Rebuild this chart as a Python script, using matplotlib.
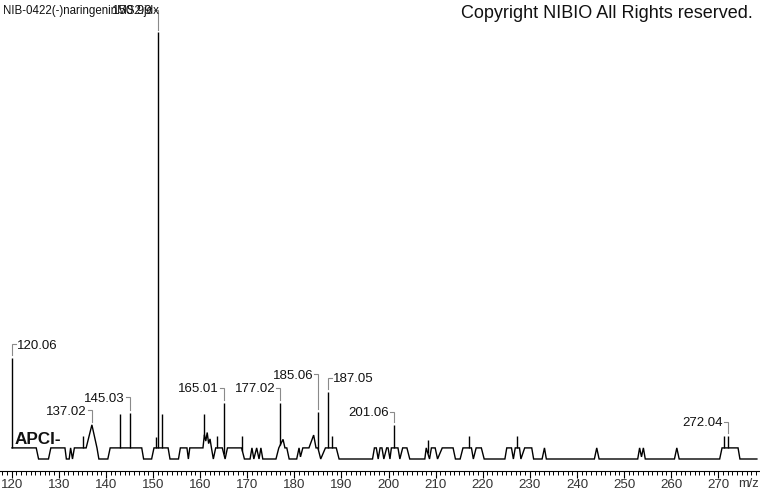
import numpy as np
import matplotlib
matplotlib.use("Agg")
import matplotlib.pyplot as plt
from matplotlib.ticker import MultipleLocator
from matplotlib import font_manager

# ---------------- data ----------------
# continuous profile (m/z, relative intensity %)
profile_mz = [120.06, 125.2, 125.7, 127.8, 128.3, 131.3, 131.6, 132.2, 132.5, 132.9, 133.3,
              135.8, 137.02, 138.1, 138.5, 140.4, 140.9, 147.6, 148.0, 149.7, 150.2,
              153.2, 153.6, 155.4, 155.8, 157.2, 157.5, 157.8, 160.6, 160.9, 161.2,
              161.5, 161.8, 162.1, 162.4, 162.8, 163.3, 164.7, 165.3, 165.8, 168.8,
              169.4, 170.6, 171.0, 171.4, 172.0, 172.5, 172.9, 173.3, 176.1, 176.7,
              177.6, 178.0, 178.4, 178.9, 180.5, 181.0, 181.3, 181.8, 183.1, 184.1,
              184.6, 185.0, 185.6, 186.6, 188.9, 189.5, 196.6, 197.0, 197.4, 197.8,
              198.2, 198.6, 199.0, 199.6, 199.9, 200.3, 200.6, 202.0, 202.4, 203.0,
              203.9, 204.5, 207.7, 208.0, 208.7, 209.1, 209.9, 210.4, 211.4, 213.7,
              214.2, 215.2, 215.8, 217.6, 218.0, 218.6, 219.7, 220.3, 224.7, 225.1,
              226.1, 226.5, 226.9, 227.8, 228.1, 228.9, 230.4, 230.8, 232.6, 233.1,
              233.5, 243.7, 244.2, 244.7, 252.9, 253.3, 253.7, 254.1, 254.5, 260.7,
              261.2, 261.7, 270.3, 270.8, 274.2, 274.6, 278.2]
profile_int = [2.6, 2.6, 0, 0, 2.6, 2.6, 0, 0, 2.6, 0, 2.6,
               2.6, 8.0, 2.6, 0, 0, 2.6, 2.6, 0, 0, 2.6,
               2.6, 0, 0, 2.6, 2.6, 0, 2.6, 2.6, 5.7, 4.2,
               6.2, 3.6, 4.7, 2.6, 0, 2.6, 2.6, 0, 2.6, 2.6,
               0, 0, 2.6, 0, 2.6, 0, 2.6, 0, 0, 2.6,
               4.6, 2.6, 2.6, 0, 0, 2.6, 0.5, 2.6, 2.6, 5.6,
               2.6, 2.6, 0, 2.6, 2.6, 0, 0, 2.6, 2.6, 0,
               2.6, 2.6, 0, 2.6, 2.6, 0, 2.6, 2.6, 0, 2.6,
               2.6, 0, 0, 2.6, 0, 2.6, 2.6, 0, 2.6, 2.6,
               0, 0, 2.6, 2.6, 0, 2.6, 2.6, 0, 0, 2.6,
               2.6, 0, 2.6, 2.6, 0, 2.6, 2.6, 0, 0, 2.6,
               0, 0, 2.6, 0, 0, 2.6, 0.5, 2.6, 0, 0,
               2.6, 0, 0, 2.6, 2.6, 0, 0]

# centroid peaks
peak_mz = [120.06, 135.07, 137.02, 142.99, 145.03, 150.70, 150.99, 151.97, 160.88,
           163.64, 165.01, 168.95, 177.02, 185.06, 187.05, 188.00, 201.06, 208.31,
           217.14, 227.21, 271.20, 272.04]
peak_int = [23.7, 5.4, 8.0, 10.5, 10.8, 5.2, 100.0, 10.5, 10.5,
            5.4, 13.2, 5.4, 13.2, 11.1, 15.7, 5.4, 8.0, 4.4,
            5.4, 5.5, 5.4, 5.4]

# annotated peaks: m/z, label height (%), side of label
label_mz = [120.06, 137.02, 145.03, 150.99, 165.01, 177.02, 185.06, 187.05, 201.06, 272.04]
label_y = [26.5, 11.1, 14.1, 104.9, 16.3, 16.3, 19.5, 18.7, 10.7, 8.4]
label_side = ["right", "left", "left", "left", "left", "left", "left", "right", "left", "left"]

x_major = list(range(120, 280, 10))
title_text = "NIB-0422(-)naringeninMS2.jdx"
copyright_text = "Copyright NIBIO All Rights reserved."
mode_text = "APCI-"

# ---------------- fonts ----------------
avail = {f.name for f in font_manager.fontManager.ttflist}
narrow = "Liberation Sans Narrow" if "Liberation Sans Narrow" in avail else "Liberation Sans"
base = "Liberation Sans"

# ---------------- figure ----------------
W, H = 760, 492
fig = plt.figure(figsize=(W / 100, H / 100), dpi=100)
ax_bottom_px = 471
ax = fig.add_axes([0, (H - ax_bottom_px) / H, 1, ax_bottom_px / H])
xmin, xmax = 117.51, 278.86
ax.set_xlim(xmin, xmax)
px_per_unit = 4.27
ax.set_ylim(-(ax_bottom_px - 459) / px_per_unit, 459 / px_per_unit)
xpx = (xmax - xmin) / W  # m/z per pixel
ypx = 1 / px_per_unit      # % per pixel

lw = 1.0
ax.plot(profile_mz, profile_int, color="black", lw=lw, solid_joinstyle="miter")
base_at_peak = np.interp(peak_mz, profile_mz, profile_int)
ax.vlines(peak_mz, base_at_peak, peak_int, color="black", lw=lw)

pk_lookup = dict(zip(peak_mz, peak_int))
for mz, ly, side in zip(label_mz, label_y, label_side):
    top = pk_lookup[mz]
    yb = top + 2.5 * ypx
    yt = ly + 1.5 * ypx
    if side == "left":
        xs = [mz, mz, mz - 4 * xpx]
        tx, ha = mz - 5.0 * xpx, "right"
    else:
        xs = [mz, mz, mz + 4 * xpx]
        tx, ha = mz + 5.0 * xpx, "left"
    ax.plot(xs, [yb, yt, yt], color="#8a8a8a", lw=0.8, solid_joinstyle="miter")
    ax.text(tx, ly, f"{mz:.2f}", ha=ha, va="center", fontsize=9.5,
            family=base, color="#111111")

# axis styling
for s in ["top", "left", "right"]:
    ax.spines[s].set_visible(False)
ax.spines["bottom"].set_linewidth(0.8)
ax.set_yticks([])
ax.xaxis.set_major_locator(MultipleLocator(10))
ax.xaxis.set_minor_locator(MultipleLocator(1))
ax.tick_params(axis="x", which="major", direction="out", length=5, width=0.8, pad=1,
               labelsize=9.6, labelcolor="#333333")
ax.tick_params(axis="x", which="minor", direction="out", length=3, width=0.7)
ax.set_xticks(x_major)
ax.set_xticklabels([str(v) for v in x_major], family=narrow)
ax.patch.set_alpha(0)

fig.text(3 / W, 1 - 11 / H, title_text, ha="left", va="center", fontsize=8.3,
         family=base, color="#111111")
fig.text(753 / W, 1 - 13 / H, copyright_text, ha="right", va="center", fontsize=13,
         family=base, color="#111111")
fig.text(15 / W, 1 - 439 / H, mode_text, ha="left", va="center", fontsize=12.3,
         family=base, weight="bold", color="#111111")
fig.text(748 / W, 1 - 484 / H, "m/z", ha="center", va="center", fontsize=9.3,
         family=narrow, color="#333333")

fig.savefig("out.png", dpi=100, facecolor="white")
